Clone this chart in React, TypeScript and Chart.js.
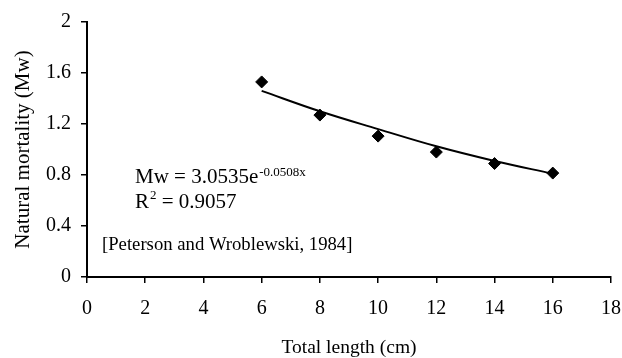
import React, { useEffect, useRef } from "react";
import { Chart, registerables } from "chart.js";

Chart.register(...registerables);

const lengths = [6, 8, 10, 12, 14, 16];
const mortality = [1.53, 1.27, 1.105, 0.98, 0.89, 0.815];
const trendX = [6, 8, 10, 12, 14, 16];
const trendY = [1.46, 1.3, 1.16, 1.025, 0.91, 0.81];
const xTicks = [0, 2, 4, 6, 8, 10, 12, 14, 16, 18];
const yTicks = [0, 0.4, 0.8, 1.2, 1.6, 2];
const equationMain = "Mw = 3.0535e";
const equationExp = "-0.0508x";
const r2Text = "0.9057";
const sourceText = "[Peterson and Wroblewski, 1984]";

const FONT = "'Liberation Serif', 'Times New Roman', serif";

const annotationPlugin = {
  id: "annotations",
  afterDraw(chart: any) {
    const { ctx, chartArea } = chart;
    const x0 = chartArea.left + 48;
    ctx.save();
    ctx.fillStyle = "#000";
    ctx.textBaseline = "alphabetic";
    ctx.textAlign = "left";
    ctx.font = `21px ${FONT}`;
    ctx.fillText(equationMain, x0, 183);
    const w = ctx.measureText(equationMain).width;
    ctx.font = `13px ${FONT}`;
    ctx.fillText(equationExp, x0 + w + 1, 176);
    ctx.font = `21px ${FONT}`;
    ctx.fillText("R", x0, 208);
    const rw = ctx.measureText("R").width;
    ctx.font = `13px ${FONT}`;
    ctx.fillText("2", x0 + rw + 1, 199);
    const tw = ctx.measureText("2").width;
    ctx.font = `21px ${FONT}`;
    ctx.fillText(" = " + r2Text, x0 + rw + tw + 1, 208);
    ctx.font = `18.7px ${FONT}`;
    ctx.fillText(sourceText, chartArea.left + 15, 250);
    ctx.restore();
  },
};

export default function App() {
  const ref = useRef<HTMLCanvasElement>(null);
  useEffect(() => {
    document.body.style.margin = "0";
    const chart = new Chart(ref.current!, {
      type: "scatter",
      data: {
        datasets: [
          {
            type: "line",
            data: trendX.map((x, i) => ({ x, y: trendY[i] })),
            borderColor: "#000",
            borderWidth: 2,
            pointRadius: 0,
            tension: 0.4,
            fill: false,
          } as any,
          {
            data: lengths.map((x, i) => ({ x, y: mortality[i] })),
            backgroundColor: "#000",
            borderColor: "#000",
            pointStyle: "rectRot",
            pointRadius: 6,
          },
        ],
      },
      options: {
        animation: false,
        responsive: false,
        maintainAspectRatio: false,
        layout: { padding: { top: 20, right: 0, bottom: 0, left: 0 } },
        plugins: { legend: { display: false }, tooltip: { enabled: false } },
        scales: {
          x: {
            type: "linear",
            min: xTicks[0],
            max: xTicks[xTicks.length - 1],
            afterBuildTicks: (s: any) => {
              s.ticks = xTicks.map((v) => ({ value: v }));
            },
            ticks: {
              color: "#000",
              padding: 14,
              font: { family: FONT, size: 20 },
            },
            grid: {
              drawOnChartArea: false,
              color: "#000",
              tickLength: 6,
              lineWidth: 1.5,
            },
            border: { color: "#000", width: 2 },
            title: {
              display: true,
              text: "Total length (cm)",
              color: "#000",
              font: { family: FONT, size: 19.5, lineHeight: 0.9 },
              padding: { top: 0, bottom: 1 },
            },
            afterFit: (s: any) => {
              s.height = 81;
              s.paddingRight = 11;
              s.paddingLeft = 0;
            },
          },
          y: {
            min: yTicks[0],
            max: yTicks[yTicks.length - 1],
            afterBuildTicks: (s: any) => {
              s.ticks = yTicks.map((v) => ({ value: v }));
            },
            ticks: {
              color: "#000",
              padding: 10,
              font: { family: FONT, size: 20 },
              callback: (v: any) =>
                Number.isInteger(v) ? String(v) : Number(v).toFixed(1),
            },
            grid: {
              drawOnChartArea: false,
              color: "#000",
              tickLength: 6,
              lineWidth: 1.5,
            },
            border: { color: "#000", width: 2 },
            title: {
              display: true,
              text: "Natural mortality (Mw)",
              color: "#000",
              font: { family: FONT, size: 21 },
              padding: { top: 11, bottom: 0 },
            },
            afterFit: (s: any) => {
              s.width = 87;
            },
          },
        },
      },
      plugins: [annotationPlugin],
    });
    return () => chart.destroy();
  }, []);
  return (
    <div style={{ width: 622, height: 358 }}>
      <canvas ref={ref} width={622} height={358} />
    </div>
  );
}
